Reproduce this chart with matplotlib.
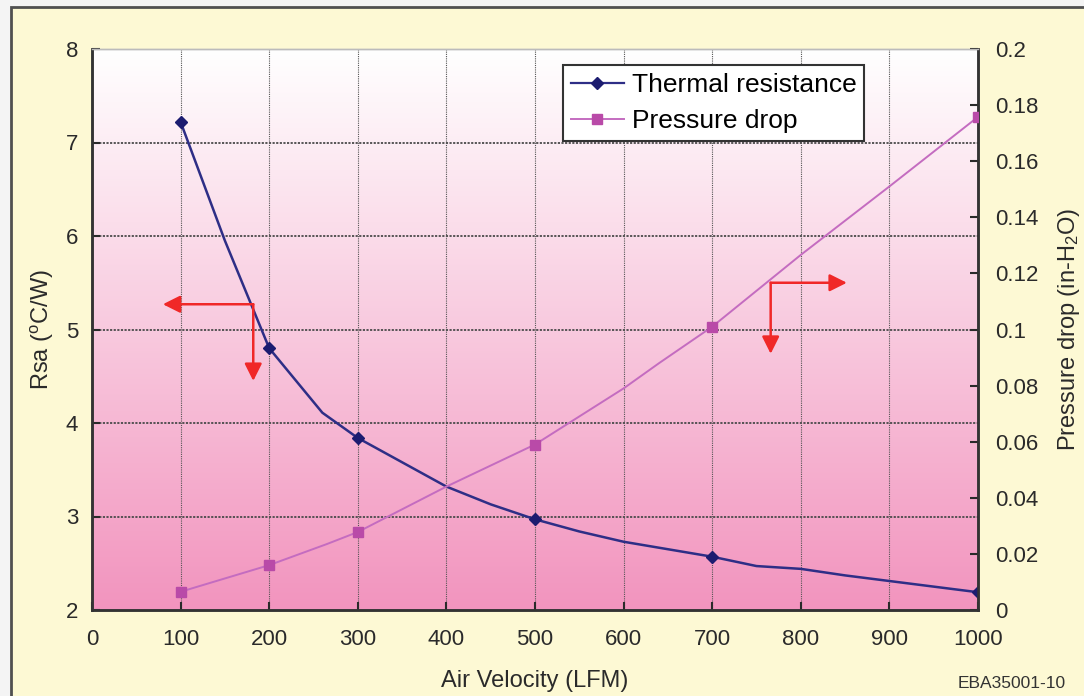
import numpy as np
import matplotlib
matplotlib.use('Agg')
import matplotlib.pyplot as plt
from matplotlib.colors import LinearSegmentedColormap
from matplotlib.patches import Rectangle

plt.rcParams['font.family'] = ['Liberation Sans', 'DejaVu Sans']
plt.rcParams['mathtext.fontset'] = 'custom'
plt.rcParams['mathtext.rm'] = 'Liberation Sans'
plt.rcParams['mathtext.it'] = 'Liberation Sans'

# Puntos medidos (con marcador)
velocity = [100, 200, 300, 500, 700, 1000]
resistance = [7.22, 4.80, 3.84, 2.97, 2.57, 2.19]
pressure = [0.0065, 0.016, 0.0278, 0.059, 0.101, 0.1758]

# Trazo de las curvas (sin marcador)
res_curve_x = [100, 150, 200, 260, 300, 350, 400, 450, 500, 550, 600, 650, 700, 750, 800, 850, 900, 950, 1000]
res_curve_y = [7.22, 5.95, 4.80, 4.11, 3.84, 3.58, 3.32, 3.13, 2.97, 2.84, 2.73, 2.65, 2.57, 2.47, 2.44, 2.37, 2.31, 2.25, 2.19]
pre_curve_x = [100, 200, 265, 300, 400, 500, 600, 640, 700, 800, 900, 1000]
pre_curve_y = [0.0065, 0.016, 0.0235, 0.0278, 0.044, 0.059, 0.079, 0.088, 0.101, 0.1266, 0.151, 0.1758]

x_ticks = list(range(0, 1001, 100))
left_ticks = [2, 3, 4, 5, 6, 7, 8]
right_ticks = [0, 0.02, 0.04, 0.06, 0.08, 0.1, 0.12, 0.14, 0.16, 0.18, 0.2]
right_labels = ['0', '0.02', '0.04', '0.06', '0.08', '0.1', '0.12', '0.14', '0.16', '0.18', '0.2']

navy = '#1c1c70'
navy_line = '#2e2e86'
pink = '#b94aa8'
pink_line = '#c46cc0'
red = '#f02828'

W, H = 1084, 696
fig = plt.figure(figsize=(W / 100, H / 100), dpi=100, facecolor='#f4f4f4')
# Fondo crema con borde
fondo = Rectangle((11 / W, -0.1), 1.2, 1.1 - 7 / H, transform=fig.transFigure,
                  facecolor='#fdf9d4', edgecolor='#505050', linewidth=2, zorder=-10)
fig.patches.append(fondo)

ax = fig.add_axes([92 / W, 1 - 610 / H, 886 / W, 561 / H])
ax.set_xlim(0, 1000)
ax.set_ylim(2, 8)

# Degradado blanco -> rosa
cmap = LinearSegmentedColormap.from_list('fondo', ['#f294be', '#ffffff'])
grad = np.linspace(0, 1, 256).reshape(-1, 1)
ax.imshow(grad, cmap=cmap, aspect='auto', extent=[0, 1, 0, 1], origin='lower',
          transform=ax.transAxes, zorder=0)

for y in left_ticks[1:-1]:
    ax.axhline(y, color='#4a4a4a', linestyle=(0, (1.2, 0.8)), linewidth=1.3, zorder=1)
for x in x_ticks[1:-1]:
    ax.axvline(x, color='#555555', linestyle=(0, (1, 1)), linewidth=0.8, zorder=1)

ax.plot(res_curve_x, res_curve_y, color=navy_line, linewidth=1.8, zorder=3)
ax.plot(velocity, resistance, linestyle='none', marker='D', markersize=6.5, color=navy, zorder=4)

# Flechas rojas
arrow = dict(arrowstyle='-|>', color=red, linewidth=1.8, mutation_scale=26, shrinkA=0, shrinkB=0)
ax.annotate('', xy=(80, 5.27), xytext=(182, 5.27), arrowprops=arrow, zorder=5)
ax.annotate('', xy=(182, 4.45), xytext=(182, 5.27), arrowprops=arrow, zorder=5)
ax.annotate('', xy=(852, 5.50), xytext=(766, 5.50), arrowprops=arrow, zorder=5)
ax.annotate('', xy=(766, 4.74), xytext=(766, 5.50), arrowprops=arrow, zorder=5)

ax.set_xticks(x_ticks)
ax.set_yticks(left_ticks)
ax.tick_params(axis='both', direction='in', length=6, width=1.5, labelsize=16, colors='#2a2a2a')
ax.tick_params(axis='x', pad=14)
ax.tick_params(axis='y', pad=10)
ax.set_xlabel('Air Velocity (LFM)', fontsize=17, color='#2a2a2a', labelpad=14)
ax.set_ylabel(r'Rsa ($^o$C/W)', fontsize=17, color='#2a2a2a', labelpad=7)

ax2 = ax.twinx()
ax2.set_ylim(0, 0.2)
ax2.plot(pre_curve_x, pre_curve_y, color=pink_line, linewidth=1.4, zorder=3)
ax2.plot(velocity, pressure, linestyle='none', marker='s', markersize=7, color=pink, zorder=4)
ax2.set_yticks(right_ticks)
ax2.set_yticklabels(right_labels)
ax2.tick_params(axis='y', direction='in', length=6, width=1.5, labelsize=16, colors='#2a2a2a', pad=12)
ax2.set_ylabel(r'Pressure drop (in-H$_2$O)', fontsize=17, color='#2a2a2a', labelpad=13)

for a in (ax, ax2):
    for s in ('left', 'right', 'bottom'):
        a.spines[s].set_color('#333333')
        a.spines[s].set_linewidth(1.8)
    a.spines['top'].set_color('#bbbbbb')
    a.spines['top'].set_linewidth(1)

h1, = ax.plot([], [], color=navy_line, linewidth=1.6, marker='D', markersize=6.5,
              markerfacecolor=navy, markeredgecolor=navy)
h2, = ax.plot([], [], color=pink_line, linewidth=1.4, marker='s', markersize=7,
              markerfacecolor=pink, markeredgecolor=pink)
leg = ax2.legend([h1, h2], ['Thermal resistance', 'Pressure drop'], loc='upper left',
                 bbox_to_anchor=((563 - 92) / 886, (610 - 65) / 561), fontsize=19,
                 frameon=True, fancybox=False, framealpha=1, edgecolor='#333333',
                 handlelength=2.0, handletextpad=0.3, borderpad=0.3, labelspacing=0.45,
                 borderaxespad=0)
leg.get_frame().set_linewidth(1.5)

fig.text(1012 / W, 1 - 683 / H, 'EBA35001-10', fontsize=12.5, color='#333333', ha='center', va='center')

fig.savefig('out.png', dpi=100, facecolor=fig.get_facecolor())
